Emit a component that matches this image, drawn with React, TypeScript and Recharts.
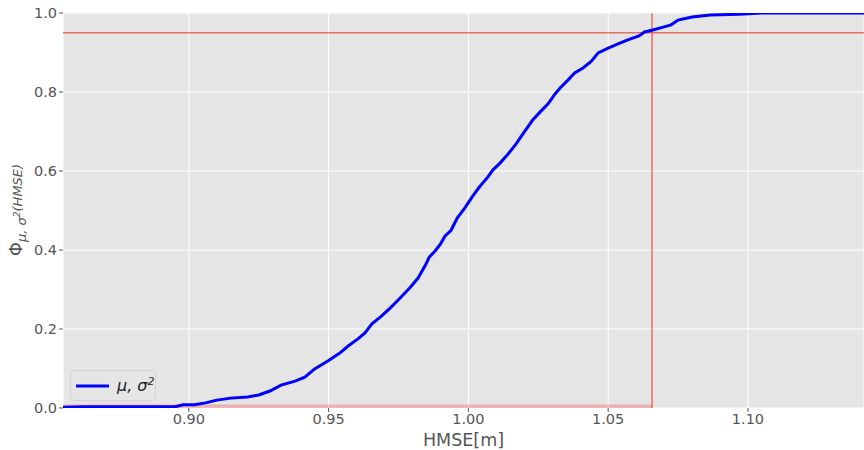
import React from 'react';
import {
  LineChart,
  Line,
  XAxis,
  YAxis,
  CartesianGrid,
  ReferenceLine,
  ReferenceArea,
} from 'recharts';

const hmse = [
  0.855, 0.863, 0.880, 0.895, 0.898, 0.902, 0.906, 0.910, 0.915, 0.921,
  0.925, 0.929, 0.933, 0.938, 0.9415, 0.945, 0.950, 0.954, 0.957, 0.9605,
  0.963, 0.9655, 0.969, 0.972, 0.9755, 0.979, 0.982, 0.9845, 0.986, 0.988,
  0.990, 0.9916, 0.9938, 0.996, 0.999, 1.0016, 1.004, 1.007, 1.0088, 1.0113,
  1.0142, 1.017, 1.020, 1.023, 1.0256, 1.0285, 1.031, 1.0328, 1.0356, 1.038,
  1.041, 1.044, 1.0464, 1.050, 1.0535, 1.057, 1.061, 1.063, 1.066, 1.070,
  1.0725, 1.075, 1.080, 1.0865, 1.097, 1.105, 1.1415,
];
const phi = [
  0.002, 0.003, 0.003, 0.003, 0.008, 0.008, 0.013, 0.020, 0.025, 0.028,
  0.033, 0.043, 0.058, 0.068, 0.078, 0.099, 0.120, 0.139, 0.157, 0.175,
  0.190, 0.213, 0.233, 0.253, 0.278, 0.304, 0.329, 0.360, 0.382, 0.397,
  0.415, 0.435, 0.450, 0.481, 0.509, 0.537, 0.560, 0.585, 0.603, 0.620,
  0.643, 0.668, 0.699, 0.729, 0.749, 0.770, 0.795, 0.810, 0.830, 0.848,
  0.861, 0.878, 0.899, 0.911, 0.922, 0.932, 0.942, 0.952, 0.957, 0.965,
  0.970, 0.982, 0.990, 0.995, 0.997, 1.000, 1.000,
];

const xTicks = [0.9, 0.95, 1.0, 1.05, 1.1];
const yTicks = [0, 0.2, 0.4, 0.6, 0.8, 1.0];
const xDomain = [0.855, 1.1415];
const quantileX = 1.0657; // 95% quantile
const quantileY = 0.95;

const data = hmse.map((x, i) => ({ x, y: phi[i] }));

const FONT = 'DejaVu Sans, sans-serif';

// y label: Phi with subscript mu, sigma^2 (HMSE)
const YLabel = () => (
  <text transform="translate(22, 210) rotate(-90)" fontFamily={FONT} fill="#555" textAnchor="middle">
    <tspan fontSize={18}>Φ</tspan>
    <tspan fontSize={13} fontStyle="italic" dy={4}>μ, σ</tspan>
    <tspan fontSize={9} fontStyle="italic" dy={-6}>2</tspan>
    <tspan fontSize={13} fontStyle="italic" dy={2}>(HMSE)</tspan>
  </text>
);

const LegendBox = () => (
  <div
    style={{
      position: 'absolute',
      left: 70,
      top: 370,
      width: 86,
      height: 31,
      boxSizing: 'border-box',
      background: 'rgba(229,229,229,0.8)',
      border: '1px solid #d4d4d4',
      borderRadius: 4,
      display: 'flex',
      alignItems: 'center',
      fontFamily: FONT,
      fontSize: 16,
      color: '#222',
    }}
  >
    <svg width={42} height={10} style={{ marginLeft: 4 }}>
      <line x1={1} y1={5} x2={34} y2={5} stroke="#0000ff" strokeWidth={3} />
    </svg>
    <span style={{ fontStyle: 'italic' }}>
      μ, σ<sup style={{ fontSize: 11 }}>2</sup>
    </span>
  </div>
);

export default function App() {
  return (
    <div style={{ position: 'absolute', left: 0, top: 0, width: 864, height: 450, background: '#fff' }}>
      <LineChart
        width={864}
        height={450}
        data={data}
        margin={{ top: 13, right: 0, bottom: 0, left: 0 }}
      >
        <CartesianGrid fill="#E5E5E5" stroke="#ffffff" strokeWidth={1} />
        <XAxis
          dataKey="x"
          type="number"
          domain={xDomain}
          ticks={xTicks}
          allowDataOverflow
          tickFormatter={(v: number) => v.toFixed(2)}
          axisLine={false}
          tickLine={{ stroke: '#555' }}
          tickSize={4}
          height={42}
          tick={{ fill: '#555', fontSize: 14.5, fontFamily: FONT }}
          label={{
            value: 'HMSE[m]',
            position: 'insideBottom',
            offset: 4,
            fill: '#555',
            fontSize: 17.5,
            fontFamily: FONT,
          }}
        />
        <YAxis
          type="number"
          domain={[0, 1]}
          ticks={yTicks}
          allowDataOverflow
          tickFormatter={(v: number) => v.toFixed(1)}
          axisLine={false}
          tickLine={{ stroke: '#555' }}
          tickSize={4}
          width={63}
          tick={{ fill: '#555', fontSize: 14.5, fontFamily: FONT }}
          label={<YLabel />}
        />
        <ReferenceArea
          x1={xDomain[0]}
          x2={quantileX}
          y1={0}
          y2={0.009}
          fill="#f08080"
          fillOpacity={0.5}
          stroke="none"
          ifOverflow="hidden"
        />
        <ReferenceLine x={quantileX} stroke="#E24A33" strokeOpacity={0.75} strokeWidth={1.5} />
        <ReferenceLine y={quantileY} stroke="#E24A33" strokeOpacity={0.75} strokeWidth={1.5} />
        <Line
          dataKey="y"
          type="linear"
          stroke="#0000ff"
          strokeWidth={3}
          dot={false}
          isAnimationActive={false}
        />
      </LineChart>
      <LegendBox />
    </div>
  );
}
